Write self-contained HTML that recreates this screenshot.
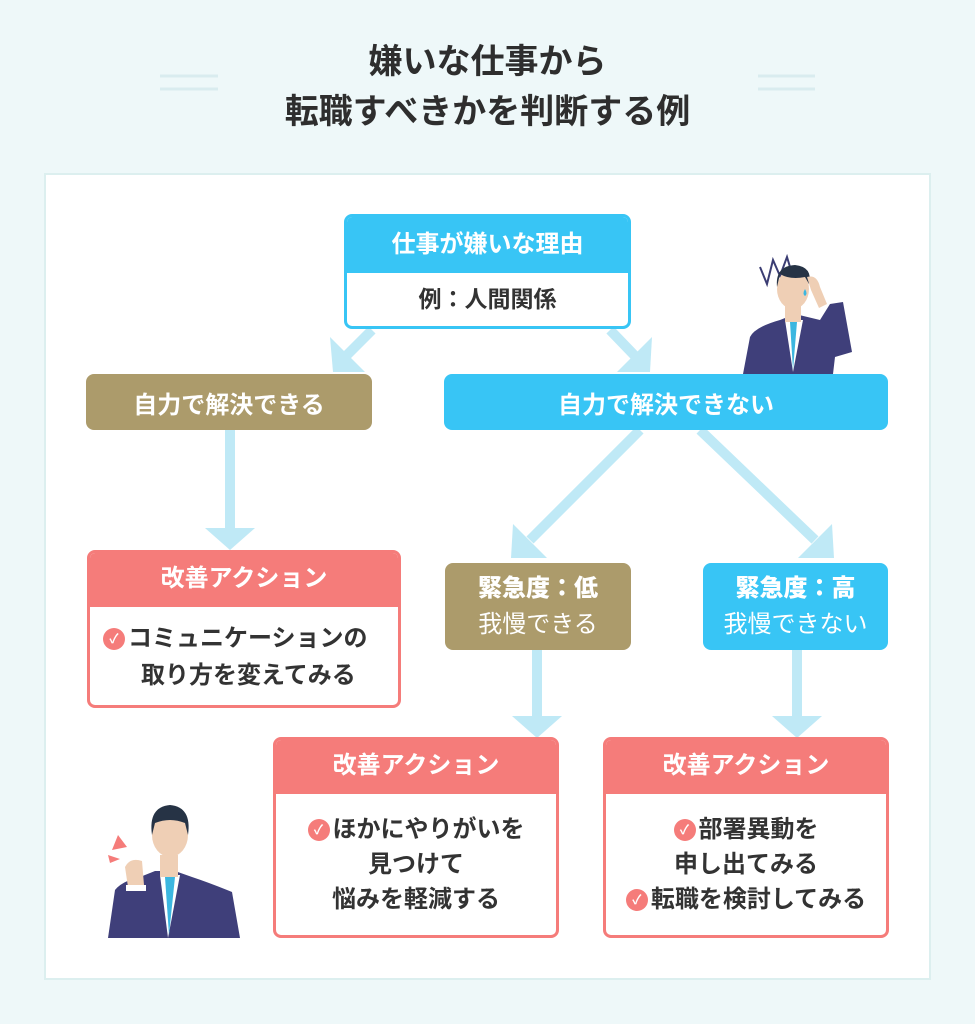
<!DOCTYPE html>
<html><head><meta charset="utf-8"><style>
*{margin:0;padding:0;box-sizing:border-box}
body{width:975px;height:1024px;background:#eef8f9;font-family:"Liberation Sans","Noto Sans CJK JP",sans-serif;position:relative;overflow:hidden;color:#333}
.abs{position:absolute}
.title{left:0;width:975px;text-align:center;font-weight:bold;font-size:34px;line-height:50px;top:37px;color:#2e2e2e}
.panel{left:44px;top:173px;width:887px;height:807px;background:#fff;border:2px solid #dcefef}
.box{position:absolute;border-radius:8px;color:#fff;font-weight:bold;display:flex;align-items:center;justify-content:center;text-align:center}
.tan{background:#ac9b6b}.blue{background:#38c5f5}
.card{position:absolute;border:3px solid #f57c7a;border-radius:8px;background:#fff;overflow:hidden}
.card .h{background:#f57c7a;color:#fff;font-weight:bold;font-size:24px;text-align:center;height:54px;line-height:52px}
.card .b{font-weight:bold;font-size:24px;line-height:35px;color:#333;white-space:nowrap}
.ck{display:inline-block;width:22px;height:22px;border-radius:50%;background:#f57c7a;color:#fff;font-size:13px;line-height:22px;text-align:center;vertical-align:3px;margin-right:3px}
</style></head><body>
<div class="abs title">嫌いな仕事から<br>転職すべきかを判断する例</div>
<svg class="abs" style="left:0;top:0" width="975" height="200">
<g stroke="#d9ecef" stroke-width="3"><line x1="160" y1="76" x2="218" y2="76"/><line x1="160" y1="89" x2="218" y2="89"/><line x1="758" y1="76" x2="815" y2="76"/><line x1="758" y1="89" x2="815" y2="89"/></g></svg>
<div class="abs panel"></div>
<svg class="abs" style="left:0;top:0" width="975" height="1024">
<g stroke="#bfe9f6" stroke-width="10" fill="none">
<line x1="372" y1="330" x2="345" y2="357"/><line x1="610" y1="330" x2="636" y2="357"/>
<line x1="230" y1="430" x2="230" y2="530"/>
<line x1="640" y1="430" x2="530" y2="540"/><line x1="700" y1="430" x2="815" y2="540"/>
<line x1="537" y1="650" x2="537" y2="720"/><line x1="797" y1="650" x2="797" y2="720"/>
</g>
<g fill="#bfe9f6">
<polygon points="330,337 365,372 333,372"/><polygon points="652,337 617,372 650,372"/>
<polygon points="205,528 255,528 230,550"/>
<polygon points="513,524 547,558 511,558"/><polygon points="832,524 798,558 834,558"/>
<polygon points="512,716 562,716 537,738"/><polygon points="772,716 822,716 797,738"/>
</g>
</svg>
<div class="abs" style="left:344px;top:214px;width:287px;height:115px;border:3px solid #38c5f5;border-radius:8px;background:#fff;overflow:hidden">
<div style="background:#38c5f5;height:56px;line-height:56px;text-align:center;color:#fff;font-weight:bold;font-size:24px">仕事が嫌いな理由</div>
<div style="text-align:center;font-weight:bold;font-size:23px;line-height:52px">例：人間関係</div></div>
<div class="box tan" style="left:86px;top:374px;width:286px;height:56px;font-size:24px">自力で解決できる</div>
<div class="box blue" style="left:444px;top:374px;width:444px;height:56px;font-size:24px">自力で解決できない</div>
<div class="box tan" style="left:445px;top:563px;width:186px;height:87px;font-size:24px;line-height:36px"><div><b>緊急度：低</b><br><span style="font-weight:normal">我慢できる</span></div></div>
<div class="box blue" style="left:703px;top:563px;width:185px;height:87px;font-size:24px;line-height:36px"><div><b>緊急度：高</b><br><span style="font-weight:normal">我慢できない</span></div></div>
<div class="card" style="left:87px;top:550px;width:314px;height:158px"><div class="h">改善アクション</div>
<div class="b" style="padding:13px 0 0 13px;line-height:37px"><span class="ck">✓</span>コミュニケーションの<br><span style="padding-left:38px">取り方を変えてみる</span></div></div>
<div class="card" style="left:273px;top:737px;width:286px;height:201px"><div class="h">改善アクション</div>
<div class="b" style="padding-top:18px;text-align:center"><span class="ck">✓</span>ほかにやりがいを<br>見つけて<br>悩みを軽減する</div></div>
<div class="card" style="left:603px;top:737px;width:286px;height:201px"><div class="h">改善アクション</div>
<div class="b" style="padding-top:18px;text-align:center"><span class="ck">✓</span>部署異動を<br>申し出てみる<br><span class="ck">✓</span>転職を検討してみる</div></div>
<svg class="abs" style="left:735px;top:252px" width="125" height="122" viewBox="0 0 125 122">
<polyline points="25,15 32,32 38,8 45,24 52,5 55,15" fill="none" stroke="#3b3d73" stroke-width="2"/>
<path d="M8,122 L15,85 Q20,75 45,68 L60,62 L85,68 L95,52 L108,50 L117,100 L100,105 L98,122Z" fill="#3f3f7a"/>
<path d="M50,68 L58,120 L68,68Z" fill="#fff"/><path d="M55,70 L58,118 L62,70Z" fill="#3cb7e0"/>
<rect x="50" y="52" width="16" height="18" fill="#efcfb5"/>
<ellipse cx="58" cy="37" rx="16" ry="20" fill="#efcfb5"/>
<path d="M42,35 Q40,14 60,13 Q78,15 74,32 L70,25 Q55,28 45,22Z" fill="#263345"/>
<path d="M72,25 Q82,22 85,35 L92,52 L84,56 L76,38Z" fill="#efcfb5"/>
<path d="M70,37 q3,5 0,7 q-3,-2 0,-7z" fill="#3cb7e0"/>
</svg>
<svg class="abs" style="left:100px;top:795px" width="145" height="145" viewBox="0 0 145 145">
<polygon points="18,40 27,52 12,55" fill="#f57c7a"/><polygon points="8,60 20,64 10,68" fill="#f57c7a"/>
<path d="M8,143 L15,95 Q22,86 40,82 L55,76 L75,76 L92,82 Q110,88 132,97 L140,143Z" fill="#3f3f7a"/>
<path d="M60,80 L68,143 L80,80Z" fill="#fff"/><path d="M65,82 L69,140 L75,82Z" fill="#3cb7e0"/>
<rect x="60" y="60" width="18" height="22" fill="#efcfb5"/>
<ellipse cx="70" cy="40" rx="18" ry="22" fill="#efcfb5"/>
<path d="M52,40 Q48,12 70,10 Q92,12 88,40 L85,28 Q70,22 55,28Z" fill="#263345"/>
<path d="M25,72 Q30,62 42,66 L44,90 L28,92Z" fill="#efcfb5"/>
<rect x="26" y="90" width="20" height="6" fill="#fff"/>
</svg>
</body></html>
